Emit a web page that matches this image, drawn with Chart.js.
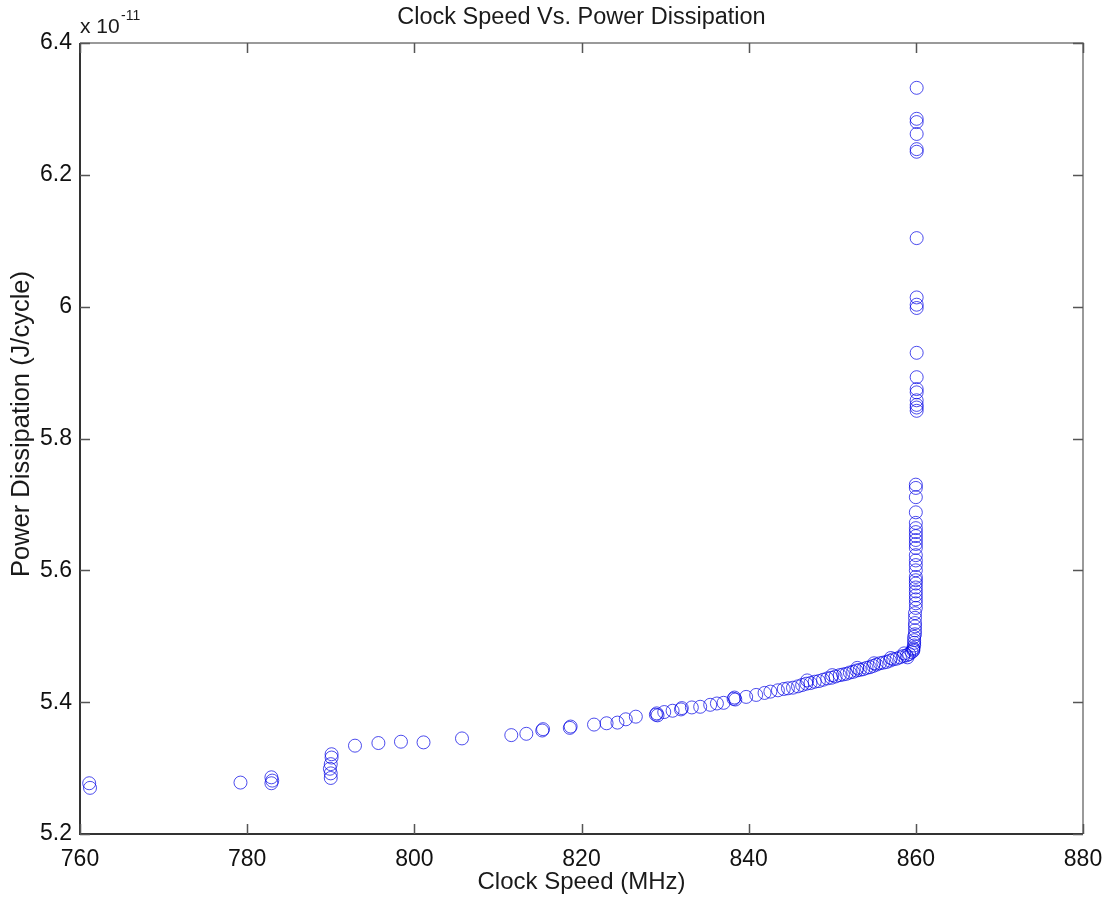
<!DOCTYPE html>
<html>
<head>
<meta charset="utf-8">
<script src="https://cdn.jsdelivr.net/npm/chart.js@4.4.1/dist/chart.umd.min.js"></script>
<style>
html,body{margin:0;padding:0;background:#fff;}
canvas{display:block;}
</style>
</head>
<body>
<canvas id="c" width="1105" height="899"></canvas>
<script>
// ---- Data (power dissipation in units of 1e-11 J/cycle) ----
const clockSpeedMHz = [
  761.1, 761.2,
  779.2,
  782.9, 783.0, 782.9,
  790.1, 790.1, 790.0, 789.9, 790.0, 790.0,
  792.9, 795.7, 798.4, 801.1, 805.7,
  811.6, 813.4, 815.3, 815.4, 818.6, 818.7,
  821.5, 823.0, 824.3, 825.3, 826.5,
  828.9, 829.0, 829.1, 829.9, 830.9,
  831.9, 832.0, 833.2, 834.2, 835.4, 836.2, 837.0,
  838.2, 838.3, 838.4, 839.7, 840.9, 841.9,
  842.6, 843.5, 844.2, 844.7, 845.3, 845.9, 846.4, 846.9, 847.4, 847.9,
  848.4, 848.9, 849.4, 849.9, 850.4, 850.9, 851.3, 851.7, 852.1, 852.5,
  852.9, 853.3, 853.7, 854.1, 854.5, 854.9, 855.3, 855.7, 856.1, 856.5,
  856.9, 857.3, 857.7, 858.1, 858.5, 858.9, 859.2, 859.5, 859.7,
  847.0, 850.0, 853.0, 855.0, 857.0, 858.6, 859.0,
  859.7, 859.7, 859.8, 859.8, 859.8, 859.8, 859.9, 859.9, 859.9, 859.9,
  859.9, 859.9, 860.0, 860.0, 860.0, 860.0, 860.0, 860.0, 860.0, 860.0,
  860.0, 860.0, 860.0, 860.0, 860.0, 860.0, 860.0, 860.0, 860.0, 860.0,
  860.0, 860.0, 860.0, 860.0, 860.0, 860.0, 860.1, 860.1, 860.1, 860.1,
  860.1, 860.1, 860.1, 860.1, 860.1, 860.1, 860.1, 860.1, 860.1, 860.1,
  860.1, 860.1, 860.1, 860.1
];
const powerDissipation = [
  5.277, 5.270,
  5.278,
  5.286, 5.281, 5.277,
  5.321, 5.316, 5.306, 5.299, 5.292, 5.285,
  5.334, 5.338, 5.340, 5.339, 5.345,
  5.350, 5.352, 5.357, 5.359, 5.361, 5.363,
  5.366, 5.368, 5.369, 5.374, 5.378,
  5.381, 5.383, 5.380, 5.385, 5.387,
  5.389, 5.391, 5.392, 5.393, 5.396, 5.398, 5.399,
  5.405, 5.407, 5.404, 5.408, 5.411, 5.414,
  5.416, 5.418, 5.420, 5.421, 5.422, 5.424, 5.426, 5.428, 5.429, 5.431,
  5.432, 5.434, 5.436, 5.437, 5.439, 5.441, 5.442, 5.443, 5.445, 5.446,
  5.448, 5.449, 5.450, 5.452, 5.453, 5.455, 5.457, 5.459, 5.460, 5.461,
  5.463, 5.465, 5.466, 5.468, 5.470, 5.471, 5.473, 5.476, 5.478,
  5.433, 5.441, 5.452, 5.459, 5.467, 5.474, 5.468,
  5.480, 5.482, 5.486, 5.490, 5.494, 5.499, 5.503, 5.509, 5.515, 5.520,
  5.528, 5.535, 5.543, 5.550, 5.556, 5.562, 5.568, 5.574, 5.580, 5.585,
  5.590, 5.600, 5.608, 5.615, 5.623, 5.634, 5.640, 5.646, 5.652, 5.658,
  5.664, 5.672, 5.688, 5.711, 5.725, 5.730, 5.842, 5.847, 5.851, 5.858,
  5.870, 5.875, 5.893, 5.930, 5.998, 6.003, 6.014, 6.104, 6.235, 6.239,
  6.262, 6.280, 6.285, 6.332
];
const xTickValues = [760, 780, 800, 820, 840, 860, 880];
const yTickValues = [5.2, 5.4, 5.6, 5.8, 6.0, 6.2, 6.4];
const yTickLabels = ['5.2', '5.4', '5.6', '5.8', '6', '6.2', '6.4'];

const titleText = 'Clock Speed Vs. Power Dissipation';
const xLabelText = 'Clock Speed (MHz)';
const yLabelText = 'Power Dissipation (J/cycle)';

const FONT = '"Liberation Sans", Arial, Helvetica, sans-serif';
const points = clockSpeedMHz.map((x, i) => ({x: x, y: powerDissipation[i]}));

const framePlugin = {
  id: 'matlabFrame',
  afterDraw(chart) {
    const {ctx, chartArea: a, scales} = chart;
    ctx.save();
    // frame
    ctx.lineWidth = 1.5;
    ctx.strokeStyle = '#7a7a7a';
    ctx.beginPath();
    ctx.moveTo(a.left, a.top); ctx.lineTo(a.right, a.top); ctx.lineTo(a.right, a.bottom);
    ctx.stroke();
    ctx.strokeStyle = '#333';
    ctx.lineWidth = 2;
    ctx.beginPath();
    ctx.moveTo(a.left, a.top); ctx.lineTo(a.left, a.bottom); ctx.lineTo(a.right, a.bottom);
    ctx.stroke();
    // ticks (inside)
    const TL = 10;
    ctx.lineWidth = 1.5;
    ctx.strokeStyle = '#555';
    scales.x.ticks.forEach(t => {
      const px = Math.round(scales.x.getPixelForValue(t.value)) + 0.5;
      ctx.beginPath();
      ctx.moveTo(px, a.bottom); ctx.lineTo(px, a.bottom - TL);
      ctx.moveTo(px, a.top); ctx.lineTo(px, a.top + TL);
      ctx.stroke();
    });
    scales.y.ticks.forEach(t => {
      const py = Math.round(scales.y.getPixelForValue(t.value)) + 0.5;
      ctx.beginPath();
      ctx.moveTo(a.left, py); ctx.lineTo(a.left + TL, py);
      ctx.moveTo(a.right, py); ctx.lineTo(a.right - TL, py);
      ctx.stroke();
    });
    // texts
    ctx.fillStyle = '#1a1a1a';
    ctx.textAlign = 'center';
    ctx.textBaseline = 'middle';
    const cx = (a.left + a.right) / 2;
    ctx.font = '23.5px ' + FONT;
    ctx.fillText(titleText, cx, 18);
    ctx.font = '24px ' + FONT;
    ctx.fillText(xLabelText, cx, 882);
    ctx.save();
    ctx.translate(22, 424);
    ctx.rotate(-Math.PI / 2);
    ctx.font = '25.5px ' + FONT;
    ctx.fillText(yLabelText, 0, 0);
    ctx.restore();
    // exponent
    ctx.textAlign = 'left';
    ctx.textBaseline = 'alphabetic';
    ctx.font = '21px ' + FONT;
    ctx.fillText('x 10', 80, 33);
    ctx.font = '14px ' + FONT;
    ctx.fillText('-11', 121, 20);
    ctx.restore();
  }
};

new Chart(document.getElementById('c'), {
  type: 'scatter',
  data: {
    datasets: [{
      data: points,
      pointStyle: 'circle',
      pointRadius: 6.5,
      pointHoverRadius: 6.5,
      borderWidth: 1,
      borderColor: 'rgba(0,0,230,0.7)',
      backgroundColor: 'rgba(0,0,0,0)',
      showLine: false
    }]
  },
  options: {
    responsive: false,
    animation: false,
    devicePixelRatio: 1,
    events: [],
    layout: {padding: {top: 43, right: 22, left: 0, bottom: 0}},
    plugins: {legend: {display: false}, title: {display: false}, tooltip: {enabled: false}},
    scales: {
      x: {
        type: 'linear',
        min: 760, max: 880,
        afterBuildTicks: s => { s.ticks = xTickValues.map(v => ({value: v})); },
        ticks: {
          callback: v => String(v),
          font: {family: FONT, size: 23},
          color: '#111',
          padding: 12,
          maxRotation: 0,
          autoSkip: false
        },
        grid: {display: false, drawTicks: false},
        border: {display: false},
        afterFit: s => { s.height = 65; s.paddingLeft = 0; s.paddingRight = 0; }
      },
      y: {
        type: 'linear',
        min: 5.2, max: 6.4,
        afterBuildTicks: s => { s.ticks = yTickValues.map(v => ({value: v})); },
        ticks: {
          callback: v => { const i = yTickValues.findIndex(t => Math.abs(t - v) < 1e-9); return i >= 0 ? yTickLabels[i] : ''; },
          font: {family: FONT, size: 23},
          color: '#111',
          padding: 8,
          autoSkip: false
        },
        grid: {display: false, drawTicks: false},
        border: {display: false},
        afterFit: s => { s.width = 80; s.paddingTop = 0; s.paddingBottom = 0; }
      }
    }
  },
  plugins: [framePlugin]
});
</script>
</body>
</html>
